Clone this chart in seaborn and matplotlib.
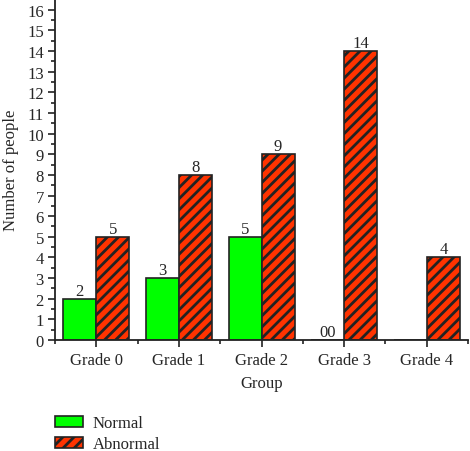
import pandas as pd
import seaborn as sns
import matplotlib.pyplot as plt
from matplotlib.ticker import MultipleLocator, FixedLocator

groups = ["Grade 0", "Grade 1", "Grade 2", "Grade 3", "Grade 4"]
normal = [2, 3, 5, 0, 0]
abnormal = [5, 8, 9, 14, 4]
normal_labels = ["2", "3", "5", "00", ""]

df = pd.DataFrame({
    "Group": groups * 2,
    "Count": normal + abnormal,
    "Status": ["Normal"] * len(groups) + ["Abnormal"] * len(groups),
})

sns.set_theme(style="ticks")
plt.rcParams["font.family"] = ["Liberation Serif", "DejaVu Serif"]
plt.rcParams["hatch.linewidth"] = 2.0
plt.rcParams["hatch.color"] = "black"

fs = 12
fig = plt.figure(figsize=(4.7, 4.52), dpi=100)
ax = fig.add_axes([0.117, 0.2456, 0.879, 0.7544])

sns.barplot(data=df, x="Group", y="Count", hue="Status", ax=ax,
            palette={"Normal": "#00ff00", "Abnormal": "#ff3300"},
            width=0.8, edgecolor="#222222", linewidth=1.2, saturation=1)

for bar in ax.containers[1]:
    bar.set_hatch("///")

ax.bar_label(ax.containers[0], labels=normal_labels, padding=0, fontsize=fs)
ax.bar_label(ax.containers[1], padding=0, fontsize=fs)

ax.set_ylim(0, 16.52)
ax.set_xlim(-0.5, 4.5)
ax.yaxis.set_major_locator(MultipleLocator(1))
ax.yaxis.set_minor_locator(MultipleLocator(0.5))
ax.xaxis.set_minor_locator(FixedLocator([-0.5, 0.5, 1.5, 2.5, 3.5, 4.5]))
ax.tick_params(axis="both", which="major", length=5, width=1.2, labelsize=fs, color="#222222")
ax.tick_params(axis="both", which="minor", length=3, width=1.2, color="#222222")
ax.tick_params(axis="x", which="major", pad=4)
ax.tick_params(axis="y", which="major", pad=3)

for side in ["top", "right"]:
    ax.spines[side].set_visible(False)
for side in ["left", "bottom"]:
    ax.spines[side].set_linewidth(1.3)
    ax.spines[side].set_color("#222222")

ax.set_xlabel("Group", fontsize=fs, labelpad=5)
ax.set_ylabel("Number of people", fontsize=fs, labelpad=6)

handles, labels = ax.get_legend_handles_labels()
ax.get_legend().remove()
handles[1].set_hatch("///")
fig.legend(handles, labels, loc="upper left", bbox_to_anchor=(0.117, 0.079),
           frameon=False, fontsize=fs, handlelength=1.68, handleheight=0.6,
           handletextpad=0.6, labelspacing=0.3, borderpad=0, borderaxespad=0)

fig.savefig("out.png", dpi=100)
